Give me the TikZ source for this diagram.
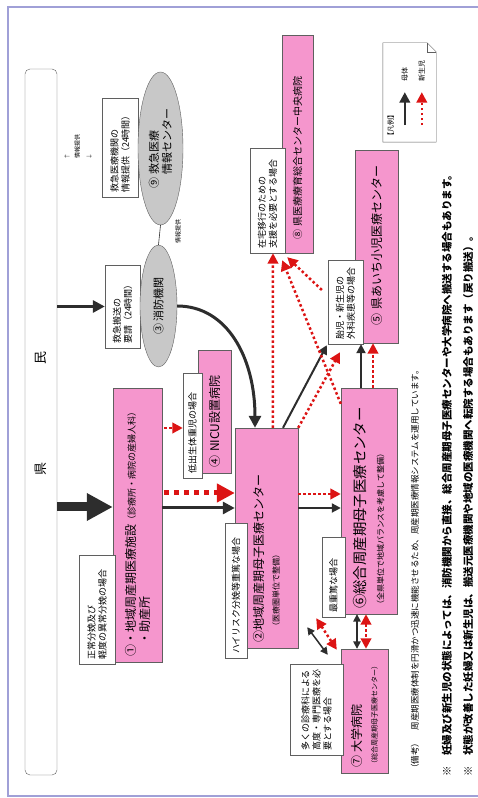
\documentclass[tikz,border=0pt]{standalone}
\usepackage{fontspec}
\setmainfont{Noto Sans CJK JP}
\usepackage{tikz}
\usetikzlibrary{arrows.meta,calc,positioning,shapes.geometric}

\definecolor{bpink}{RGB}{245,150,205}
\definecolor{bedge}{RGB}{95,95,95}
\definecolor{ogrey}{RGB}{200,200,200}
\definecolor{dred}{RGB}{220,20,20}
\definecolor{dline}{RGB}{45,45,45}
\definecolor{flav}{RGB}{160,160,215}

\tikzstyle{block} = [rectangle, draw=bedge, fill=bpink, inner xsep=5pt,
  inner ysep=2pt, align=left, font=\large]
\tikzstyle{note} = [rectangle, draw=bedge, fill=white, inner xsep=4pt,
  inner ysep=2pt, align=left, font=\small]
\tikzstyle{agency} = [ellipse, draw=bedge, fill=ogrey, inner sep=0pt,
  align=left, font=\fontsize{11}{13}\selectfont]
\tikzstyle{tag} = [inner sep=1pt, font=\fontsize{6}{7}\selectfont]
\tikzset{
  solid arrow/.style={draw=dline, line width=#1, ->},
  red arrow/.style={draw=dred, line width=#1, dash pattern=on #1 off #1, ->},
  solid twoway/.style={draw=dline, line width=#1, <->},
  red twoway/.style={draw=dred, line width=#1, dash pattern=on #1 off #1, <->}
}

\begin{document}
\begin{tikzpicture}[x=1pt, y=-1pt, rotate=90, transform shape,
    >={Triangle[length=3pt 3, width=3pt 3]}]

  \useasboundingbox (0,0) rectangle (798,478);
  \draw[flav, line width=1.5pt] (2,8) rectangle (791,486);

  %%%%%%%%%%%%%%%%%%%%%%%%%%%%%%%%%%%%%%%%%%%%%%%%%%%%%%%%%%%%%%
  %                   RESIDENTS AND AGENCIES                   %
  %%%%%%%%%%%%%%%%%%%%%%%%%%%%%%%%%%%%%%%%%%%%%%%%%%%%%%%%%%%%%%

  \node [rectangle, rounded corners=5pt, draw=bedge, fill=white,
    minimum width=706, minimum height=32,
    font=\fontsize{13}{15}\selectfont] (kenmin) at (376,41) {
    \hspace*{16pt}県\hspace{98pt}民
  };
  \node [note, minimum width=99, minimum height=36, text width=91pt]
    (info-center-note) at (650.5,120) {救急医療機関の\\情報提供（24時間）};
  \node [agency, minimum width=153, minimum height=45] (info-center)
    at (649.5,160.5) {⑨ 救急医療\\\phantom{⑨ }情報センター};
  \node [note, minimum width=83, minimum height=35, text width=75pt]
    (fire-dept-note) at (491.5,122.5) {救急搬送の\\要請（24時間）};
  \node [agency, minimum width=122, minimum height=37] (fire-dept)
    at (492,158.5) {③ 消防機関};
  \node [tag, align=left] (info-tag-a) at (651,78) {$\uparrow$\\[4pt]情報提供\\[4pt]$\downarrow$};
  \node [tag] (info-tag-b) at (566,178) {情報提供};
  \draw [dline, line width=0.6pt] (info-center.west) -- (fire-dept.east);

  %%%%%%%%%%%%%%%%%%%%%%%%%%%%%%%%%%%%%%%%%%%%%%%%%%%%%%%%%%%%%%
  %                   MEDICAL FACILITIES                       %
  %%%%%%%%%%%%%%%%%%%%%%%%%%%%%%%%%%%%%%%%%%%%%%%%%%%%%%%%%%%%%%

  \node [block, minimum width=274, minimum height=49, text width=264pt]
    (local-facility) at (273,137.5) {
    ①・地域周産期医療施設{\small（診療所・病院の産婦人科）}\\\phantom{①}・助産所
  };
  \node [block, minimum width=220, minimum height=63, text width=210pt]
    (local-center) at (260,266.5) {
    ②地域周産期母子医療センター\\[2pt]\hspace*{12pt}{\footnotesize（医療圏単位で整備）}
  };
  \node [block, font=\Large, minimum width=226, minimum height=56, text width=216pt]
    (general-center) at (297,369) {
    ⑥総合周産期母子医療センター\\{\footnotesize（全県単位で地域バランスを考慮して整備）}
  };
  \node [block, minimum width=124, minimum height=47, text width=114pt]
    (univ-hospital) at (87,364.5) {
    ⑦ 大学病院\\[2pt]{\scriptsize（総合周産期母子医療センター）}
  };
  \node [block, minimum width=123, minimum height=33, text width=113pt]
    (nicu-hospital) at (386.5,214.5) {④ NICU設置病院};
  \node [block, minimum width=193, minimum height=43, text width=183pt]
    (child-center) at (551.5,376.5) {\hspace*{12pt}⑤ 県あいち小児医療センター};
  \node [block, font=\normalsize, minimum width=218, minimum height=31, text width=208pt]
    (rehab-center) at (654,297.5) {\hspace*{8pt}⑧ 県医療療育総合センター中央病院};

  % cases
  \node [note, minimum width=109, minimum height=36, text width=101pt]
    (local-facility-note) at (188.5,97) {正常分娩及び\\軽度の異常分娩の場合};
  \node [note, minimum width=135, minimum height=22, text width=127pt]
    (local-center-note) at (207.5,236) {ハイリスク分娩等重篤な場合};
  \node [note, minimum width=105, minimum height=19, text width=97pt]
    (nicu-hospital-note) at (372.5,192.5) {低出生体重児の場合};
  \node [note, minimum width=80, minimum height=23, text width=72pt]
    (general-center-note) at (221,333.5) {最重篤な場合};
  \node [note, minimum width=91, minimum height=53, text width=83pt]
    (univ-hospital-note) at (88.5,316.5) {多くの診療科による\\高度・専門医療を必\\要とする場合};
  \node [note, minimum width=84, minimum height=35, text width=76pt]
    (child-center-note) at (496,345.5) {胎児・新生児の\\外科疾患等の場合};
  \node [note, minimum width=105, minimum height=35, text width=97pt]
    (rehab-center-note) at (597.5,267.5) {在宅移行のための\\支援を必要とする場合};

  %%%%%%%%%%%%%%%%%%%%%%%%%%%%%%%%%%%%%%%%%%%%%%%%%%%%%%%%%%%%%%
  %                   TRANSPORT                                %
  %%%%%%%%%%%%%%%%%%%%%%%%%%%%%%%%%%%%%%%%%%%%%%%%%%%%%%%%%%%%%%

  \draw [dline, line width=9pt, -{Triangle[length=26pt, width=26pt]}]
    ($(kenmin.south)+(-85,0)$) -- ($(local-facility.north)+(18,0)$);
  \draw [solid arrow=3pt] ($(kenmin.south)+(115.5,0)$) -- (fire-dept-note.north);
  \draw [solid arrow=3pt] (fire-dept.south) .. controls +(0,50) and +(70,0) ..
    ($(local-center.east)+(0,-11.5)$);

  \draw [solid arrow=3pt] ($(local-facility.south)+(17,0)$) -- ($(local-center.north)+(30,0)$);
  \draw [red arrow=5pt] ($(local-facility.south)+(32,2)$) -- ($(local-center.north)+(45,0)$);
  \draw [red arrow=2.5pt] ($(local-facility.south)+(97,2)$) -- ($(nicu-hospital-note.north)+(-2.5,0)$);

  \draw [solid arrow=2pt] ($(local-center.south)+(30,0)$) -- ($(general-center.north)+(-7,0)$);
  \draw [red arrow=2.5pt] ($(local-center.south)+(44,0)$) -- ($(general-center.north)+(7,0)$);

  \draw [solid twoway=1.5pt] ($(general-center.west)+(0,-12)$) -- ($(univ-hospital.east)+(0,-7.5)$);
  \draw [red twoway=2.5pt] ($(general-center.west)+(0,-3)$) -- ($(univ-hospital.east)+(0,1.5)$);
  \draw [solid twoway=1.5pt] ($(local-center.south west)+(21,9)$) -- ($(univ-hospital.north east)+(-6,-13)$);
  \draw [red twoway=2.5pt] ($(local-center.south west)+(30,18)$) -- ($(univ-hospital.north east)+(-1,-4)$);

  \draw [solid arrow=2pt] ($(general-center.east)+(0,-8)$) -- ($(child-center-note.west)+(0,15.5)$);
  \draw [red arrow=2.5pt] ($(general-center.east)+(0,4)$) -- ($(child-center.west)+(0,-3.5)$);
  \draw [solid arrow=2pt] ($(local-center.east)+(0,16.5)$) -- ($(child-center-note.north west)+(-1,-1)$);
  \draw [red arrow=2.5pt] (local-center.south east) -- ($(child-center-note.west)+(-8,-5.5)$);

  \draw [red arrow=2.5pt] ($(local-center.north east)+(0,38)$) -- ($(rehab-center-note.west)+(0,5.5)$);
  \draw [red arrow=2.5pt] ($(general-center.north east)+(-16,0)$) -- ($(rehab-center-note.south west)+(-7,-3)$);
  \draw [red arrow=2.5pt] ($(child-center-note.north)+(12,-6)$) -- ($(rehab-center-note.south west)+(-4,2)$);

  %%%%%%%%%%%%%%%%%%%%%%%%%%%%%%%%%%%%%%%%%%%%%%%%%%%%%%%%%%%%%%
  %                   LEGEND AND REMARKS                       %
  %%%%%%%%%%%%%%%%%%%%%%%%%%%%%%%%%%%%%%%%%%%%%%%%%%%%%%%%%%%%%%

  \node [minimum width=99, minimum height=53, inner sep=0pt] (legend) at (705.5,409.5) {};
  \draw [bedge, fill=white] (legend.north west) -- (legend.north east)
    -- ($(legend.south east)+(0,-9)$) -- ($(legend.south east)+(-9,0)$)
    -- (legend.south west) -- cycle;
  \draw [bedge] ($(legend.south east)+(0,-9)$) -- ($(legend.south east)+(-9,-9)$)
    -- ($(legend.south east)+(-9,0)$);
  \node [tag, anchor=west, font=\fontsize{7}{8}\selectfont] (legend-title)
    at ($(legend.north west)+(1,8)$) {【凡例】};
  \node [tag, anchor=west, font=\fontsize{7}{8}\selectfont] (legend-mother)
    at ($(legend.north west)+(59,22)$) {母体};
  \node [tag, anchor=west, font=\fontsize{7}{8}\selectfont] (legend-baby)
    at ($(legend.north west)+(59,39)$) {新生児};
  \draw [solid arrow=2.5pt, shorten >=9pt] ($(legend-mother.west)+(-42,0)$) -- (legend-mother.west);
  \draw [red arrow=2.5pt, shorten >=9pt] ($(legend-baby.west)+(-42,0)$) -- (legend-baby.west);

  \node [anchor=west, inner sep=0pt, font=\fontsize{8.5}{10}\selectfont] (remarks)
    at (25,415) {（備考）　周産期医療体制を円滑かつ迅速に機能させるため、周産期医療情報システムを運用しています。};
  \node [anchor=west, inner sep=0pt, font=\fontsize{10.5}{12}\selectfont\bfseries] (remark-a)
    at (21,447) {※　妊婦及び新生児の状態によっては、消防機関から直接、総合周産期母子医療センターや大学病院へ搬送する場合もあります。};
  \node [anchor=west, inner sep=0pt, font=\fontsize{10.5}{12}\selectfont\bfseries] (remark-b)
    at (21,468) {※　状態が改善した妊婦又は新生児は、搬送元医療機関や地域の医療機関へ転院する場合もあります（戻り搬送）。};

\end{tikzpicture}
\end{document}
